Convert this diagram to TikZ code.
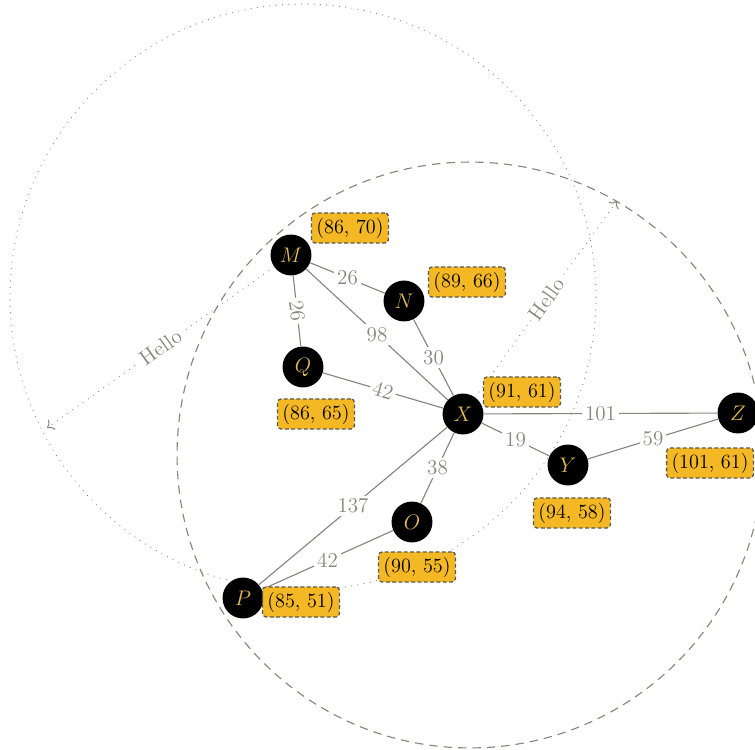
\documentclass[tikz,border=0pt]{standalone}
\usetikzlibrary{positioning, arrows.meta}
\definecolor{nodegold}{HTML}{E2BA58}
\definecolor{boxgold}{HTML}{F3B823}
\definecolor{edgegray}{HTML}{87877D}
\tikzset{
  vertex/.style={circle, fill=black, text=nodegold, minimum size=23.3pt, inner sep=0pt,
    font=\fontsize{12}{14}\selectfont},
  coordbox/.style={fill=boxgold, draw=black!65, dash pattern=on 2.2pt off 1.4pt,
    rounded corners=2pt, inner sep=2.8pt, line width=0.75pt, font=\fontsize{11.5}{13}\selectfont},
  edge/.style={draw=edgegray, line width=0.65pt},
  weight/.style={fill=white, text=edgegray, inner sep=1.6pt, font=\fontsize{12}{14}\selectfont},
  sparsedots/.style={draw=edgegray, line width=0.7pt, line cap=round, dash pattern=on 0pt off 3.6pt},
  longdash/.style={draw=edgegray, line width=0.65pt, dash pattern=on 4.8pt off 3.4pt},
  hellotip/.style={-{To[length=3.5pt, width=7pt, line width=0.6pt]}},
}
\begin{document}
\begin{tikzpicture}[x=0.02cm, y=-0.02cm]
  \useasboundingbox (0,0) rectangle (755,750);
  % Circles
  \draw[sparsedots] (303,297) circle (5.86cm);
  \draw[longdash] (470,455) circle (5.86cm);
  % Nodes
  \node[vertex] (M) at (291,255) {$M$};
  \node[vertex] (N) at (404,301) {$N$};
  \node[vertex] (Q) at (303,367) {$Q$};
  \node[vertex] (X) at (463,414) {$X$};
  \node[vertex] (Y) at (568,465) {$Y$};
  \node[vertex] (Z) at (738,413) {$Z$};
  \node[vertex] (O) at (412,522) {$O$};
  \node[vertex] (P) at (243,598) {$P$};
  \coordinate (helloA) at (47,428);
  \coordinate (helloB) at (617,201);
  % Edges
  \draw[edge] (M) -- node[weight] {26} (N);
  \draw[edge] (M) -- node[weight, sloped] {26} (Q);
  \draw[edge] (M) -- node[weight] {98} (X);
  \draw[edge] (N) -- node[weight] {30} (X);
  \draw[edge] (Q) -- node[weight, sloped] {42} (X);
  \draw[edge] (X) -- node[weight] {101} (Z);
  \draw[edge] (X) -- node[weight] {19} (Y);
  \draw[edge] (Y) -- node[weight] {59} (Z);
  \draw[edge] (X) -- node[weight] {38} (O);
  \draw[edge] (X) -- node[weight] {137} (P);
  \draw[edge] (O) -- node[weight] {42} (P);
  % Hello arrows
  \draw[sparsedots, hellotip] (M) -- node[weight, sloped] {Hello} (helloA);
  \draw[sparsedots, hellotip] (X) -- node[weight, sloped] {Hello} (helloB);
  % Coordinates
  \node[coordbox] (Mc) at (350,228) {(86, 70)};
  \node[coordbox] (Nc) at (467,282) {(89, 66)};
  \node[coordbox] (Qc) at (316,414) {(86, 65)};
  \node[coordbox] (Xc) at (522,392) {(91, 61)};
  \node[coordbox] (Yc) at (572,513) {(94, 58)};
  \node[coordbox] (Zc) at (710,463) {(101, 61)};
  \node[coordbox] (Oc) at (417,567) {(90, 55)};
  \node[coordbox] (Pc) at (301,602) {(85, 51)};
\end{tikzpicture}
\end{document}
